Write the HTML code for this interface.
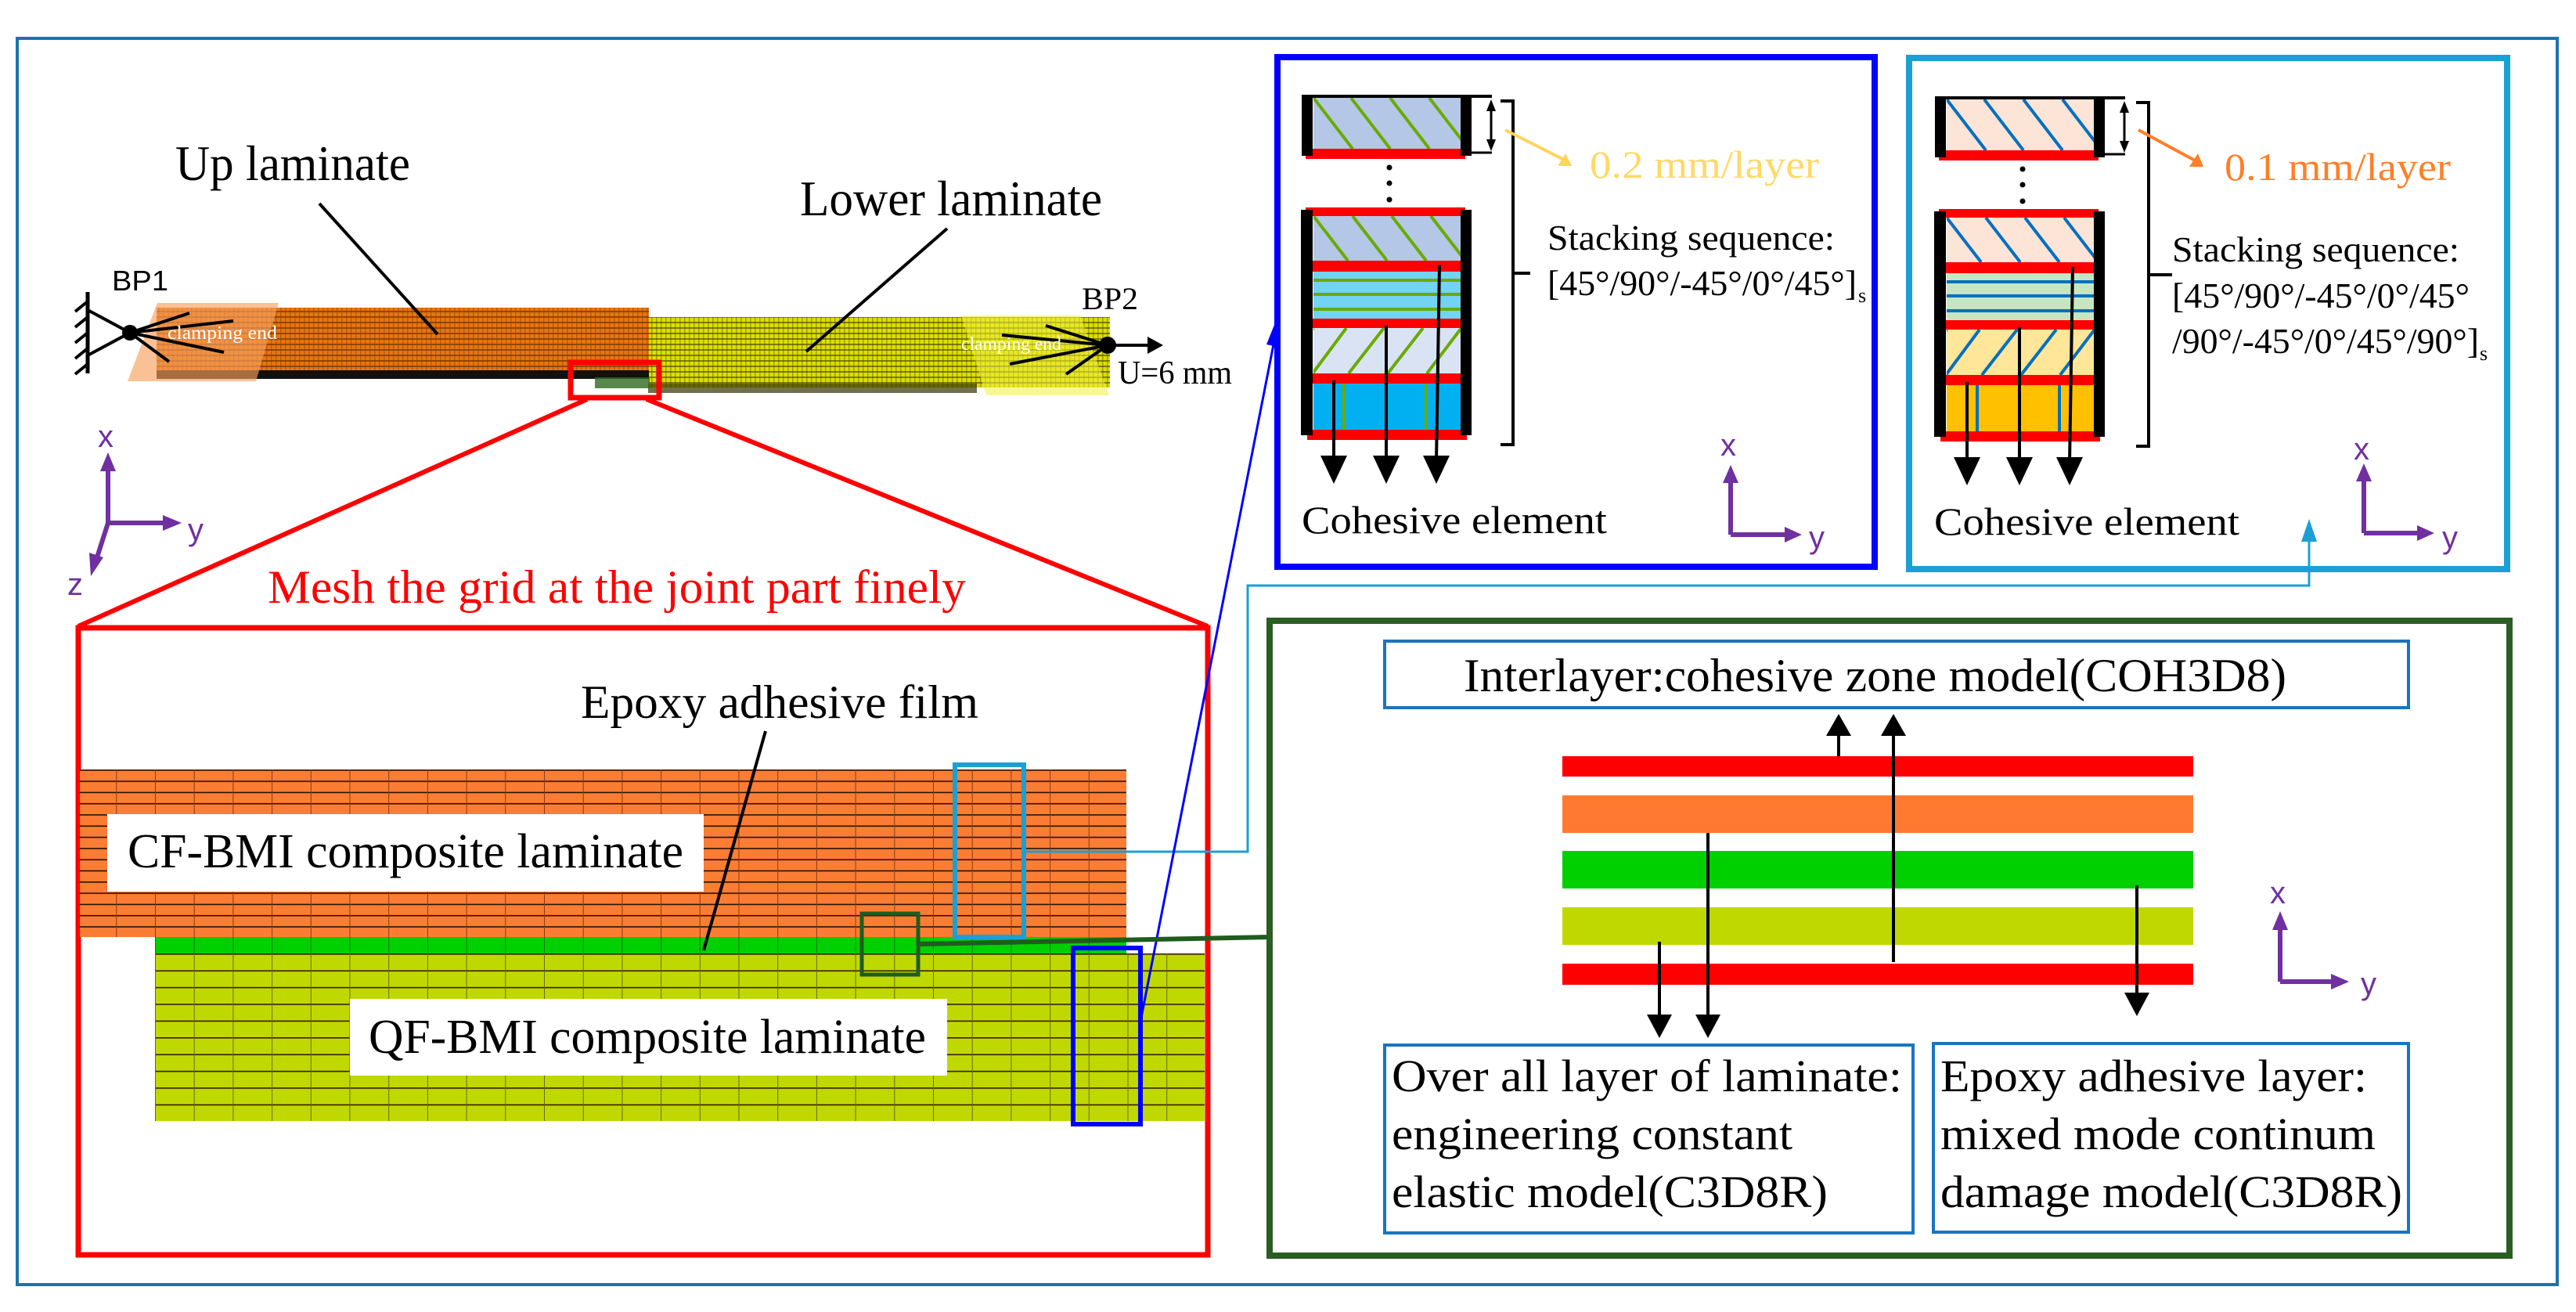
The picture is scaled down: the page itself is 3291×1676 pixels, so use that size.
<!DOCTYPE html>
<html><head><meta charset="utf-8"><style>
html,body{margin:0;padding:0;background:#fff;}
svg{display:block;}
text{font-family:"Liberation Serif",serif;}
.sans{font-family:"Liberation Sans",sans-serif;}
</style></head><body>
<svg width="3291" height="1676" viewBox="0 0 3291 1676" xmlns="http://www.w3.org/2000/svg">
<defs>
<pattern id="orMesh" x="198" y="983" width="49.7" height="14.3" patternUnits="userSpaceOnUse">
<rect width="49.7" height="14.3" fill="#fb7d34"/>
<line x1="0" y1="0.8" x2="49.7" y2="0.8" stroke="#2a1000" stroke-width="1.6"/>
<line x1="0.5" y1="0" x2="0.5" y2="14.3" stroke="#8a3a10" stroke-width="1"/>
</pattern>
<pattern id="yeMesh" x="198" y="1218" width="49.7" height="21.4" patternUnits="userSpaceOnUse">
<rect width="49.7" height="21.4" fill="#bfd900"/>
<line x1="0" y1="0.8" x2="49.7" y2="0.8" stroke="#3a1a00" stroke-width="1.6"/>
<line x1="0.5" y1="0" x2="0.5" y2="21.4" stroke="#6a6a00" stroke-width="1"/>
</pattern>
<pattern id="grMesh" x="198" y="1197" width="49.7" height="30" patternUnits="userSpaceOnUse">
<rect width="49.7" height="30" fill="#00d000"/>
<line x1="0.5" y1="0" x2="0.5" y2="30" stroke="#0a7a0a" stroke-width="1"/>
</pattern>
<pattern id="orBar" width="6" height="7" patternUnits="userSpaceOnUse">
<rect width="6" height="7" fill="#e8750e"/>
<rect y="5" width="6" height="2" fill="#5a2a00" opacity="0.6"/>
<rect x="4" width="1.5" height="7" fill="#7a3800" opacity="0.4"/>
</pattern>
<pattern id="yeBar" width="6" height="7" patternUnits="userSpaceOnUse">
<rect width="6" height="7" fill="#dede00"/>
<rect y="5" width="6" height="2" fill="#404000" opacity="0.6"/>
<rect x="4" width="1.5" height="7" fill="#404000" opacity="0.4"/>
</pattern>
<clipPath id="cA0"><rect x="1678" y="125" width="188" height="65"/></clipPath>
<clipPath id="cA1"><rect x="1678" y="276" width="188" height="57"/></clipPath>
<clipPath id="cA3"><rect x="1678" y="419" width="188" height="58"/></clipPath>
</defs>

<!-- outer frame -->
<rect x="22" y="49" width="3245" height="1592" fill="none" stroke="#1a74ad" stroke-width="4"/>

<!-- top 3D model -->
<text x="224" y="230" font-size="64" textLength="300" lengthAdjust="spacingAndGlyphs">Up laminate</text>
<text x="1022" y="275" font-size="64" textLength="386" lengthAdjust="spacingAndGlyphs">Lower laminate</text>
<text x="143" y="371" font-size="36" class="sans" textLength="72" lengthAdjust="spacingAndGlyphs">BP1</text>
<text x="1382" y="395" font-size="40" textLength="72" lengthAdjust="spacingAndGlyphs">BP2</text>

<rect x="828" y="405" width="590" height="90" fill="url(#yeBar)"/>
<rect x="828" y="490" width="420" height="12" fill="#333300" opacity="0.7"/>
<rect x="200" y="393" width="629" height="80" fill="url(#orBar)"/>
<rect x="200" y="473" width="629" height="11" fill="#111"/>
<polygon points="201,387 356,387 327,487 163,487" fill="#f7a060" opacity="0.65"/>
<polygon points="1228,403 1380,403 1417,505 1260,505" fill="#f0f040" opacity="0.55"/>
<rect x="760" y="482" width="70" height="14" fill="#2f6a1f" opacity="0.8"/>

<line x1="408" y1="260" x2="559" y2="427" stroke="#000" stroke-width="4"/>
<line x1="1210" y1="292" x2="1030" y2="449" stroke="#000" stroke-width="4"/>

<!-- BP1 support -->
<line x1="112" y1="373" x2="112" y2="477" stroke="#000" stroke-width="5"/>
<g stroke="#000" stroke-width="4">
<line x1="112" y1="385" x2="96" y2="398"/><line x1="112" y1="405" x2="96" y2="418"/>
<line x1="112" y1="425" x2="96" y2="438"/><line x1="112" y1="445" x2="96" y2="458"/>
<line x1="112" y1="465" x2="96" y2="478"/>
<line x1="112" y1="396" x2="166" y2="425"/><line x1="112" y1="454" x2="166" y2="425"/>
<line x1="166" y1="425" x2="242" y2="400"/><line x1="166" y1="425" x2="298" y2="410"/>
<line x1="166" y1="425" x2="286" y2="450"/><line x1="166" y1="425" x2="216" y2="462"/>
</g>
<circle cx="166" cy="425" r="10" fill="#000"/>
<text x="214" y="433" font-size="24" fill="#fff" textLength="140" lengthAdjust="spacingAndGlyphs">clamping end</text>

<!-- BP2 -->
<g stroke="#000" stroke-width="4">
<line x1="1415" y1="441" x2="1336" y2="416"/><line x1="1415" y1="441" x2="1280" y2="428"/>
<line x1="1415" y1="441" x2="1290" y2="465"/><line x1="1415" y1="441" x2="1362" y2="478"/>
<line x1="1415" y1="441" x2="1470" y2="441"/>
</g>
<polygon points="1466,430 1486,441 1466,452" fill="#000"/>
<circle cx="1415" cy="441" r="11" fill="#000"/>
<text x="1228" y="447" font-size="24" fill="#fff" textLength="128" lengthAdjust="spacingAndGlyphs">clamping end</text>
<text x="1428" y="490" font-size="42" textLength="146" lengthAdjust="spacingAndGlyphs">U=6 mm</text>

<!-- red zoom -->
<rect x="729" y="463" width="113" height="45" fill="none" stroke="#ff0000" stroke-width="7"/>
<line x1="750" y1="510" x2="100" y2="800" stroke="#ff0000" stroke-width="6"/>
<line x1="826" y1="510" x2="1543" y2="800" stroke="#ff0000" stroke-width="6"/>
<text x="342" y="770" font-size="60" fill="#ff0000" textLength="892" lengthAdjust="spacingAndGlyphs">Mesh the grid at the joint part finely</text>
<rect x="100" y="802" width="1443" height="801" fill="none" stroke="#ff0000" stroke-width="7"/>

<!-- left axes -->
<g stroke="#7030a0" stroke-width="6" fill="#7030a0">
<line x1="138" y1="668" x2="138" y2="600"/><line x1="138" y1="668" x2="212" y2="668"/>
<line x1="138" y1="668" x2="124" y2="712"/>
</g>
<polygon points="128,602 138,578 148,602" fill="#7030a0"/>
<polygon points="208,658 232,668 208,678" fill="#7030a0"/>
<polygon points="114,706 116,736 132,712" fill="#7030a0"/>
<text x="125" y="571" font-size="40" fill="#7030a0" class="sans">x</text>
<text x="240" y="690" font-size="40" fill="#7030a0" class="sans">y</text>
<text x="86" y="760" font-size="40" fill="#7030a0" class="sans">z</text>

<!-- mesh -->
<rect x="102" y="983" width="1337" height="214" fill="url(#orMesh)"/>
<rect x="198" y="1197" width="1241" height="21" fill="url(#grMesh)"/>
<rect x="198" y="1218" width="1341" height="214" fill="url(#yeMesh)"/>
<rect x="137" y="1040" width="762" height="99" fill="#fff"/>
<text x="163" y="1108" font-size="62" textLength="710" lengthAdjust="spacingAndGlyphs">CF-BMI composite laminate</text>
<rect x="447" y="1276" width="763" height="98" fill="#fff"/>
<text x="471" y="1345" font-size="62" textLength="712" lengthAdjust="spacingAndGlyphs">QF-BMI composite laminate</text>
<text x="742" y="917" font-size="60" textLength="508" lengthAdjust="spacingAndGlyphs">Epoxy adhesive film</text>
<line x1="978" y1="934" x2="899" y2="1214" stroke="#000" stroke-width="4"/>

<rect x="1220" y="977" width="88" height="220" fill="none" stroke="#1aa0d4" stroke-width="6"/>
<rect x="1101" y="1167" width="72" height="78" fill="none" stroke="#1f5c1f" stroke-width="5"/>
<rect x="1371" y="1211" width="86" height="225" fill="none" stroke="#0000ff" stroke-width="6"/>

<!-- connectors -->
<polyline points="1308,1088 1594,1088 1594,748 2950,748 2950,690" fill="none" stroke="#1aa0d4" stroke-width="3"/>
<polygon points="2940,692 2950,663 2960,692" fill="#1aa0d4"/>
<line x1="1457" y1="1305" x2="1627" y2="440" stroke="#0000ff" stroke-width="3"/>
<polygon points="1618,440 1630,410 1636,444" fill="#0000ff"/>
<line x1="1173" y1="1206" x2="1624" y2="1197" stroke="#1f5c1f" stroke-width="6"/>

<!-- blue box -->
<rect x="1632" y="73" width="763" height="651" fill="none" stroke="#0000ff" stroke-width="8"/>
<!-- cyan box -->
<rect x="2439" y="74" width="764" height="653" fill="none" stroke="#1aa0d4" stroke-width="8"/>

<!-- blue stack -->
<g id="stackA">
<rect x="1678" y="125" width="188" height="65" fill="#b4c7e7"/>
<g clip-path="url(#cA0)" stroke="#6aaa00" stroke-width="4">
<line x1="1678" y1="125" x2="1728" y2="190"/><line x1="1726" y1="125" x2="1776" y2="190"/>
<line x1="1776" y1="125" x2="1826" y2="190"/><line x1="1826" y1="125" x2="1876" y2="190"/>
</g>
<rect x="1668" y="190" width="204" height="13" fill="#ff0000"/>
<rect x="1663" y="123" width="14" height="76" fill="#000"/>
<rect x="1866" y="123" width="14" height="76" fill="#000"/>
<line x1="1663" y1="123" x2="1906" y2="123" stroke="#000" stroke-width="4"/>
<line x1="1880" y1="195" x2="1906" y2="195" stroke="#000" stroke-width="3"/>
<line x1="1905" y1="132" x2="1905" y2="188" stroke="#000" stroke-width="3"/>
<polygon points="1899,142 1905,127 1911,142" fill="#000"/>
<polygon points="1899,178 1905,193 1911,178" fill="#000"/>
<circle cx="1775" cy="214" r="3.5" fill="#000"/><circle cx="1775" cy="234" r="3.5" fill="#000"/><circle cx="1775" cy="255" r="3.5" fill="#000"/>

<rect x="1678" y="276" width="188" height="57" fill="#b4c7e7"/>
<g clip-path="url(#cA1)" stroke="#6aaa00" stroke-width="4">
<line x1="1678" y1="276" x2="1722" y2="333"/><line x1="1728" y1="276" x2="1772" y2="333"/>
<line x1="1778" y1="276" x2="1822" y2="333"/><line x1="1828" y1="276" x2="1872" y2="333"/>
</g>
<rect x="1678" y="347" width="188" height="60" fill="#72d3f2"/>
<g stroke="#6aaa00" stroke-width="4">
<line x1="1678" y1="358" x2="1866" y2="358"/><line x1="1678" y1="376" x2="1866" y2="376"/><line x1="1678" y1="395" x2="1866" y2="395"/>
</g>
<rect x="1678" y="419" width="188" height="58" fill="#dae3f3"/>
<g clip-path="url(#cA3)" stroke="#6aaa00" stroke-width="4">
<line x1="1634" y1="477" x2="1678" y2="419"/><line x1="1677" y1="477" x2="1720" y2="419"/>
<line x1="1723" y1="477" x2="1768" y2="419"/><line x1="1773" y1="477" x2="1818" y2="419"/>
<line x1="1823" y1="477" x2="1867" y2="419"/>
</g>
<rect x="1678" y="490" width="188" height="59" fill="#00b0f0"/>
<line x1="1717" y1="490" x2="1717" y2="549" stroke="#6aaa00" stroke-width="4"/>
<line x1="1822" y1="490" x2="1822" y2="549" stroke="#6aaa00" stroke-width="4"/>
<rect x="1668" y="265" width="204" height="11" fill="#ff0000"/>
<rect x="1668" y="333" width="198" height="14" fill="#ff0000"/>
<rect x="1668" y="407" width="198" height="12" fill="#ff0000"/>
<rect x="1668" y="477" width="198" height="13" fill="#ff0000"/>
<rect x="1670" y="549" width="204" height="13" fill="#ff0000"/>
<rect x="1662" y="268" width="15" height="288" fill="#000"/>
<rect x="1866" y="268" width="14" height="288" fill="#000"/>
<g stroke="#000" stroke-width="4" fill="none">
<polyline points="1917,129 1933,129 1933,568 1917,568"/>
<line x1="1933" y1="349" x2="1955" y2="349"/>
<line x1="1704" y1="486" x2="1704" y2="590"/><line x1="1771" y1="416" x2="1771" y2="590"/><line x1="1839" y1="339" x2="1835" y2="590"/>
</g>
<polygon points="1687,582 1721,582 1704,618" fill="#000"/>
<polygon points="1754,582 1788,582 1771,618" fill="#000"/>
<polygon points="1818,582 1852,582 1835,618" fill="#000"/>
</g>
<line x1="1923" y1="166" x2="2000" y2="205" stroke="#ffd45a" stroke-width="4"/>
<polygon points="1990,212 2008,212 2000,196" fill="#ffd45a"/>
<text x="2031" y="227" font-size="50" fill="#ffd966" textLength="293" lengthAdjust="spacingAndGlyphs">0.2 mm/layer</text>
<text x="1977" y="319" font-size="46" textLength="367" lengthAdjust="spacingAndGlyphs">Stacking sequence:</text>
<text x="1977" y="377" font-size="46" textLength="395" lengthAdjust="spacingAndGlyphs">[45°/90°/-45°/0°/45°]</text>
<text x="2374" y="386" font-size="26">s</text>
<text x="1663" y="681" font-size="50" textLength="390" lengthAdjust="spacingAndGlyphs">Cohesive element</text>
<g stroke="#7030a0" stroke-width="6">
<line x1="2211" y1="683" x2="2211" y2="615"/><line x1="2211" y1="683" x2="2282" y2="683"/>
</g>
<polygon points="2201,617 2211,594 2221,617" fill="#7030a0"/>
<polygon points="2280,673 2302,683 2280,693" fill="#7030a0"/>
<text x="2198" y="582" font-size="40" fill="#7030a0" class="sans">x</text>
<text x="2311" y="700" font-size="40" fill="#7030a0" class="sans">y</text>

<!-- cyan stack -->
<g transform="translate(809,2)">
<rect x="1678" y="125" width="188" height="65" fill="#fce4d6"/>
<g clip-path="url(#cA0)" stroke="#0070c0" stroke-width="4">
<line x1="1678" y1="125" x2="1728" y2="190"/><line x1="1726" y1="125" x2="1776" y2="190"/>
<line x1="1776" y1="125" x2="1826" y2="190"/><line x1="1826" y1="125" x2="1876" y2="190"/>
</g>
<rect x="1668" y="190" width="204" height="13" fill="#ff0000"/>
<rect x="1663" y="123" width="14" height="76" fill="#000"/>
<rect x="1866" y="123" width="14" height="76" fill="#000"/>
<line x1="1663" y1="123" x2="1906" y2="123" stroke="#000" stroke-width="4"/>
<line x1="1880" y1="195" x2="1906" y2="195" stroke="#000" stroke-width="3"/>
<line x1="1905" y1="132" x2="1905" y2="188" stroke="#000" stroke-width="3"/>
<polygon points="1899,142 1905,127 1911,142" fill="#000"/>
<polygon points="1899,178 1905,193 1911,178" fill="#000"/>
<circle cx="1775" cy="214" r="3.5" fill="#000"/><circle cx="1775" cy="234" r="3.5" fill="#000"/><circle cx="1775" cy="255" r="3.5" fill="#000"/>
<rect x="1678" y="276" width="188" height="57" fill="#fce4d6"/>
<g clip-path="url(#cA1)" stroke="#0070c0" stroke-width="4">
<line x1="1678" y1="276" x2="1722" y2="333"/><line x1="1728" y1="276" x2="1772" y2="333"/>
<line x1="1778" y1="276" x2="1822" y2="333"/><line x1="1828" y1="276" x2="1872" y2="333"/>
</g>
<rect x="1678" y="347" width="188" height="60" fill="#c5e6c0"/>
<g stroke="#0070c0" stroke-width="4">
<line x1="1678" y1="358" x2="1866" y2="358"/><line x1="1678" y1="376" x2="1866" y2="376"/><line x1="1678" y1="395" x2="1866" y2="395"/>
</g>
<rect x="1678" y="419" width="188" height="58" fill="#ffe699"/>
<g clip-path="url(#cA3)" stroke="#0070c0" stroke-width="4">
<line x1="1634" y1="477" x2="1678" y2="419"/><line x1="1677" y1="477" x2="1720" y2="419"/>
<line x1="1723" y1="477" x2="1768" y2="419"/><line x1="1773" y1="477" x2="1818" y2="419"/>
<line x1="1823" y1="477" x2="1867" y2="419"/>
</g>
<rect x="1678" y="490" width="188" height="59" fill="#ffc000"/>
<line x1="1717" y1="490" x2="1717" y2="549" stroke="#0070c0" stroke-width="4"/>
<line x1="1822" y1="490" x2="1822" y2="549" stroke="#0070c0" stroke-width="4"/>
<rect x="1668" y="265" width="204" height="11" fill="#ff0000"/>
<rect x="1668" y="333" width="198" height="14" fill="#ff0000"/>
<rect x="1668" y="407" width="198" height="12" fill="#ff0000"/>
<rect x="1668" y="477" width="198" height="13" fill="#ff0000"/>
<rect x="1670" y="549" width="204" height="13" fill="#ff0000"/>
<rect x="1662" y="268" width="15" height="288" fill="#000"/>
<rect x="1866" y="268" width="14" height="288" fill="#000"/>
<g stroke="#000" stroke-width="4" fill="none">
<polyline points="1920,129 1936,129 1936,568 1920,568"/>
<line x1="1936" y1="349" x2="1966" y2="349"/>
<line x1="1704" y1="486" x2="1704" y2="590"/><line x1="1771" y1="416" x2="1771" y2="590"/><line x1="1839" y1="339" x2="1835" y2="590"/>
</g>
<polygon points="1687,582 1721,582 1704,618" fill="#000"/>
<polygon points="1754,582 1788,582 1771,618" fill="#000"/>
<polygon points="1818,582 1852,582 1835,618" fill="#000"/>
</g>
<line x1="2732" y1="166" x2="2806" y2="206" stroke="#ff7f27" stroke-width="4"/>
<polygon points="2797,213 2815,213 2808,196" fill="#ff7f27"/>
<text x="2842" y="230" font-size="50" fill="#ff7f27" textLength="289" lengthAdjust="spacingAndGlyphs">0.1 mm/layer</text>
<text x="2775" y="334" font-size="46" textLength="367" lengthAdjust="spacingAndGlyphs">Stacking sequence:</text>
<text x="2775" y="393" font-size="46" textLength="380" lengthAdjust="spacingAndGlyphs">[45°/90°/-45°/0°/45°</text>
<text x="2775" y="451" font-size="46" textLength="392" lengthAdjust="spacingAndGlyphs">/90°/-45°/0°/45°/90°]</text>
<text x="3168" y="460" font-size="26">s</text>
<text x="2471" y="683" font-size="50" textLength="390" lengthAdjust="spacingAndGlyphs">Cohesive element</text>
<g stroke="#7030a0" stroke-width="6">
<line x1="3020" y1="681" x2="3020" y2="613"/><line x1="3020" y1="681" x2="3090" y2="681"/>
</g>
<polygon points="3010,615 3020,592 3030,615" fill="#7030a0"/>
<polygon points="3088,671 3110,681 3088,691" fill="#7030a0"/>
<text x="3007" y="587" font-size="40" fill="#7030a0" class="sans">x</text>
<text x="3120" y="700" font-size="40" fill="#7030a0" class="sans">y</text>

<!-- green box -->
<rect x="1622" y="793" width="1584" height="811" fill="none" stroke="#2a5e22" stroke-width="8"/>
<rect x="1769" y="819" width="1308" height="85" fill="#fff" stroke="#1a74c0" stroke-width="4"/>
<text x="1870" y="883" font-size="60" textLength="1051" lengthAdjust="spacingAndGlyphs">Interlayer:cohesive zone model(COH3D8)</text>
<rect x="1996" y="966" width="806" height="26" fill="#ff0000"/>
<rect x="1996" y="1016" width="806" height="48" fill="#ff7a30"/>
<rect x="1996" y="1087" width="806" height="48" fill="#00d000"/>
<rect x="1996" y="1159" width="806" height="48" fill="#bfd900"/>
<rect x="1996" y="1231" width="806" height="27" fill="#ff0000"/>
<g stroke="#000" stroke-width="4">
<line x1="2349" y1="966" x2="2349" y2="935"/>
<line x1="2419" y1="1229" x2="2419" y2="935"/>
<line x1="2182" y1="1064" x2="2182" y2="1300"/>
<line x1="2120" y1="1203" x2="2120" y2="1300"/>
<line x1="2730" y1="1131" x2="2730" y2="1272"/>
</g>
<polygon points="2333,940 2365,940 2349,912" fill="#000"/>
<polygon points="2403,940 2435,940 2419,912" fill="#000"/>
<polygon points="2166,1296 2198,1296 2182,1326" fill="#000"/>
<polygon points="2104,1296 2136,1296 2120,1326" fill="#000"/>
<polygon points="2714,1268 2746,1268 2730,1298" fill="#000"/>
<g stroke="#7030a0" stroke-width="6">
<line x1="2913" y1="1254" x2="2913" y2="1185"/><line x1="2913" y1="1254" x2="2980" y2="1254"/>
</g>
<polygon points="2903,1188 2913,1164 2923,1188" fill="#7030a0"/>
<polygon points="2978,1244 3001,1254 2978,1264" fill="#7030a0"/>
<text x="2900" y="1154" font-size="40" fill="#7030a0" class="sans">x</text>
<text x="3016" y="1270" font-size="40" fill="#7030a0" class="sans">y</text>

<rect x="1769" y="1335" width="675" height="240" fill="#fff" stroke="#1a74c0" stroke-width="4"/>
<text x="1778" y="1394" font-size="58" textLength="652" lengthAdjust="spacingAndGlyphs">Over all layer of laminate:</text>
<text x="1778" y="1468" font-size="58" textLength="512" lengthAdjust="spacingAndGlyphs">engineering constant</text>
<text x="1778" y="1542" font-size="58" textLength="557" lengthAdjust="spacingAndGlyphs">elastic model(C3D8R)</text>
<rect x="2470" y="1333" width="607" height="241" fill="#fff" stroke="#1a74c0" stroke-width="4"/>
<text x="2479" y="1394" font-size="58" textLength="545" lengthAdjust="spacingAndGlyphs">Epoxy adhesive layer:</text>
<text x="2479" y="1468" font-size="58" textLength="556" lengthAdjust="spacingAndGlyphs">mixed mode continum</text>
<text x="2479" y="1542" font-size="58" textLength="590" lengthAdjust="spacingAndGlyphs">damage model(C3D8R)</text>
</svg>
</body></html>
